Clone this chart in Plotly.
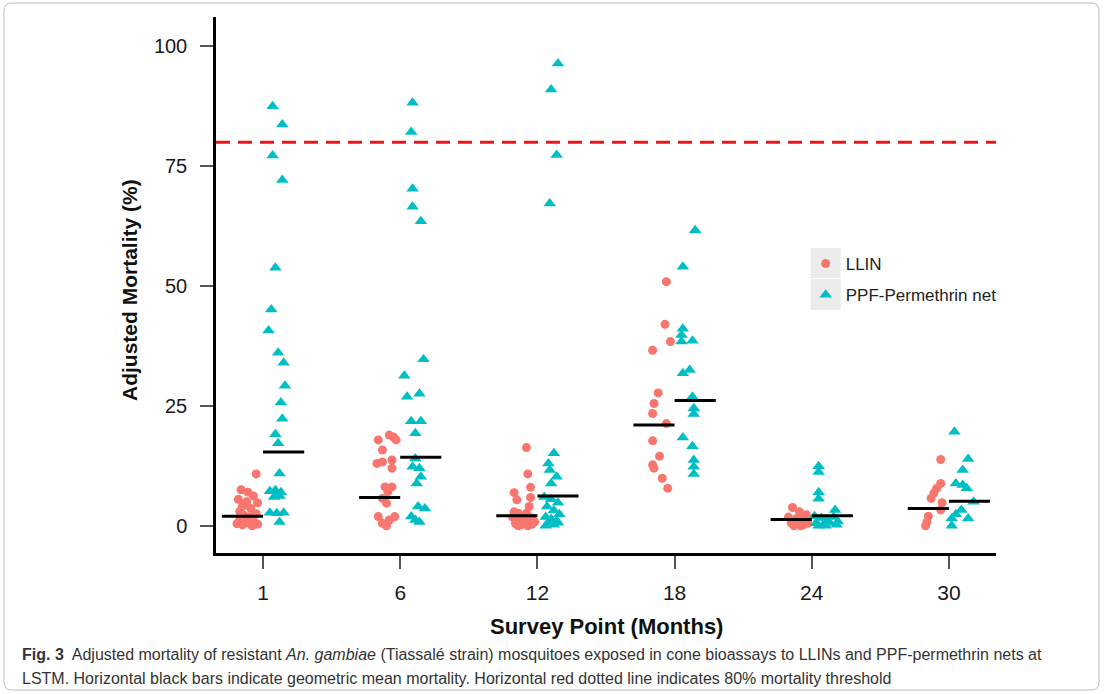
import plotly.graph_objects as go

# Survey points (months) and threshold
months = ["1", "6", "12", "18", "24", "30"]
threshold = 80

# Adjusted mortality (%) per net, one list per survey point
llin_values = [
    [10.8, 7.5, 7.0, 6.2, 5.5, 5.0, 4.8, 4.0, 3.6, 3.0, 2.5, 2.2, 1.8, 1.2, 1.0, 0.6, 0.2, 0.0, 0.4, 0.3],
    [17.9, 18.9, 17.9, 18.5, 15.8, 13.0, 13.3, 13.7, 12.0, 8.1, 8.1, 7.1, 5.7, 4.7, 1.9, 0.5, 1.2, 1.9, 0.0],
    [16.3, 10.8, 8.0, 6.9, 5.4, 5.9, 4.0, 2.9, 2.6, 2.6, 1.8, 1.5, 1.2, 1.6, 0.8, 0.5, 0.2, 0.0, 0.3, 0.0],
    [50.9, 42.0, 38.4, 36.6, 27.7, 25.5, 23.4, 21.3, 17.7, 14.5, 12.7, 12.0, 9.9, 7.8],
    [3.8, 2.9, 2.3, 1.8, 1.5, 1.2, 1.4, 0.6, 0.4, 0.2, 0.0, 0.0, 0.5],
    [13.8, 8.8, 7.8, 6.8, 5.7, 4.8, 3.3, 2.0, 0.8, 0.0],
]
ppf_values = [
    [87.5, 83.7, 77.2, 72.1, 53.8, 45.1, 40.7, 36.1, 34.0, 29.2, 25.7, 22.3, 19.1, 17.2, 10.9,
     7.2, 7.4, 7.0, 6.0, 6.2, 2.7, 2.6, 2.7, 0.8],
    [88.2, 82.1, 70.3, 66.5, 63.5, 34.7, 31.3, 26.9, 27.5, 21.8, 21.8, 19.3, 14.0, 12.3, 12.0,
     10.2, 8.8, 4.0, 3.6, 1.9, 1.2, 0.8],
    [96.4, 91.0, 77.3, 67.2, 15.1, 13.0, 11.6, 10.2, 8.8, 6.0, 5.5, 4.8, 4.0, 3.2, 2.4, 1.8,
     1.4, 1.0, 0.5, 0.2, 0.0, 0.6],
    [61.6, 54.0, 41.1, 39.8, 38.4, 38.6, 31.8, 32.5, 26.9, 24.5, 23.3, 18.4, 16.6, 13.7, 12.3, 10.8],
    [12.4, 11.2, 7.0, 5.6, 3.3, 2.0, 1.6, 1.2, 1.8, 0.9, 0.5, 0.3, 0.6, 0.2, 0.0, 0.0],
    [19.6, 13.9, 11.6, 8.8, 8.5, 7.8, 5.0, 3.3, 2.4, 1.5, 1.5, 0.0],
]

# Horizontal jitter of each net (in category units, relative to the survey point)
llin_jitter = [
    [-0.05, -0.16, -0.11, -0.07, -0.18, -0.12, -0.04, -0.15, -0.09, -0.17, -0.05, -0.14, -0.10,
     -0.17, -0.07, -0.12, -0.15, -0.08, -0.19, -0.04],
    [-0.16, -0.08, -0.03, -0.05, -0.13, -0.17, -0.13, -0.06, -0.06, -0.11, -0.06, -0.09, -0.13,
     -0.10, -0.16, -0.13, -0.08, -0.04, -0.10],
    [-0.08, -0.07, -0.05, -0.17, -0.15, -0.05, -0.06, -0.17, -0.14, -0.08, -0.18, -0.13, -0.09,
     -0.04, -0.02, -0.16, -0.12, -0.07, -0.04, -0.14],
    [-0.06, -0.07, -0.03, -0.16, -0.12, -0.15, -0.16, -0.06, -0.16, -0.11, -0.16, -0.15, -0.09, -0.05],
    [-0.14, -0.09, -0.04, -0.17, -0.11, -0.07, -0.03, -0.15, -0.10, -0.06, -0.13, -0.08, -0.03],
    [-0.06, -0.06, -0.09, -0.11, -0.13, -0.05, -0.06, -0.15, -0.16, -0.17],
]
ppf_jitter = [
    [0.07, 0.14, 0.07, 0.14, 0.09, 0.06, 0.04, 0.11, 0.15, 0.16, 0.13, 0.14, 0.09, 0.11, 0.12,
     0.05, 0.09, 0.13, 0.08, 0.12, 0.05, 0.10, 0.15, 0.12],
    [0.09, 0.08, 0.09, 0.09, 0.15, 0.17, 0.03, 0.05, 0.14, 0.08, 0.15, 0.11, 0.11, 0.09, 0.14,
     0.15, 0.12, 0.13, 0.18, 0.08, 0.11, 0.14],
    [0.15, 0.10, 0.14, 0.09, 0.12, 0.08, 0.09, 0.14, 0.10, 0.05, 0.10, 0.15, 0.07, 0.12, 0.16,
     0.06, 0.10, 0.14, 0.08, 0.12, 0.06, 0.15],
    [0.15, 0.06, 0.06, 0.05, 0.05, 0.13, 0.06, 0.11, 0.13, 0.14, 0.14, 0.06, 0.13, 0.14, 0.14, 0.14],
    [0.05, 0.05, 0.05, 0.05, 0.17, 0.02, 0.07, 0.11, 0.16, 0.19, 0.03, 0.09, 0.13, 0.18, 0.05, 0.10],
    [0.04, 0.14, 0.10, 0.05, 0.10, 0.13, 0.18, 0.09, 0.05, 0.14, 0.02, 0.02],
]

# Geometric mean mortality per survey point
llin_gmean = [2.0, 5.9, 2.1, 21.0, 1.3, 3.6]
ppf_gmean = [15.4, 14.3, 6.2, 26.1, 2.1, 5.1]

LLIN_COLOR = "#F8766D"
PPF_COLOR = "#00BFC4"
BAR_HALF = 0.3

# plot-area geometry in pixels (used for paper-coordinate placement)
W, H = 1104, 694
PL, PR, PT, PB = 216, 996, 17, 553


def px(xp):
    return (xp - PL) / (PR - PL)


def py(yp):
    return (PB - yp) / (PB - PT)


def scatter_xy(values, jitter):
    xs, ys = [], []
    for k, (vals, jit) in enumerate(zip(values, jitter)):
        for v, j in zip(vals, jit):
            xs.append(k + j)
            ys.append(v)
    return xs, ys


def bar_xy(means, side):
    xs, ys = [], []
    for k, m in enumerate(means):
        x0 = k - BAR_HALF if side < 0 else k
        xs += [x0, x0 + BAR_HALF, None]
        ys += [m, m, None]
    return xs, ys


fig = go.Figure()

lx, ly = scatter_xy(llin_values, llin_jitter)
tx, ty = scatter_xy(ppf_values, ppf_jitter)

fig.add_trace(go.Scatter(
    x=lx, y=ly, mode="markers", name="LLIN", legendgroup="a",
    marker=dict(symbol="circle", size=9, color=LLIN_COLOR, line=dict(width=0)),
))
fig.add_trace(go.Scatter(
    x=tx, y=ty, mode="markers", name="PPF-Permethrin net", legendgroup="b",
    marker=dict(symbol="triangle-up", size=11, color=PPF_COLOR, line=dict(width=0)),
))

bx, by = bar_xy(llin_gmean, -1)
fig.add_trace(go.Scatter(x=bx, y=by, mode="lines", showlegend=False,
                         line=dict(color="black", width=3)))
bx, by = bar_xy(ppf_gmean, 1)
fig.add_trace(go.Scatter(x=bx, y=by, mode="lines", showlegend=False,
                         line=dict(color="black", width=3)))

shapes = [
    # 80% threshold line
    dict(type="line", xref="paper", yref="y", x0=0, x1=1, y0=threshold, y1=threshold,
         line=dict(color="#E8161B", width=3, dash="14px,8px"), layer="above"),
    # legend key backgrounds
    dict(type="rect", xref="paper", yref="paper", x0=px(810.7), x1=px(840.7),
         y0=py(278), y1=py(248), fillcolor="#EBEBEB", line=dict(width=0), layer="above"),
    dict(type="rect", xref="paper", yref="paper", x0=px(810.7), x1=px(840.7),
         y0=py(310), y1=py(279), fillcolor="#EBEBEB", line=dict(width=0), layer="above"),
]

# rounded frame around the figure and caption
fx0, fx1, fy0, fy1 = px(4), px(1099), py(690), py(3)
rx, ry = 8 / (PR - PL), 8 / (PB - PT)
frame = (f"M {fx0 + rx} {fy1} L {fx1 - rx} {fy1} Q {fx1} {fy1} {fx1} {fy1 - ry} "
         f"L {fx1} {fy0 + ry} Q {fx1} {fy0} {fx1 - rx} {fy0} "
         f"L {fx0 + rx} {fy0} Q {fx0} {fy0} {fx0} {fy0 + ry} "
         f"L {fx0} {fy1 - ry} Q {fx0} {fy1} {fx0 + rx} {fy1} Z")
shapes.append(dict(type="path", xref="paper", yref="paper", path=frame,
                   line=dict(color="#BDBDBD", width=1), layer="below"))

annotations = [
    dict(text="<b>Survey Point (Months)</b>", xref="paper", yref="paper",
         x=0.5, y=py(626), xanchor="center", yanchor="middle", showarrow=False,
         font=dict(family="Liberation Sans", size=22, color="#111")),
    dict(text="<b>Adjusted Mortality (%)</b>", xref="paper", yref="paper",
         x=px(130), y=py(290), xanchor="center", yanchor="middle", showarrow=False,
         textangle=-90, font=dict(family="Liberation Sans", size=21, color="#111")),
    dict(text="<b>Fig. 3</b>  Adjusted mortality of resistant <i>An. gambiae</i> (Tiassalé strain) "
              "mosquitoes exposed in cone bioassays to LLINs and PPF-permethrin nets at",
         xref="paper", yref="paper", x=px(20), y=py(654), xanchor="left", yanchor="middle",
         showarrow=False, align="left",
         font=dict(family="Liberation Sans Narrow, Liberation Sans", size=16, color="#333")),
    dict(text="LSTM. Horizontal black bars indicate geometric mean mortality. Horizontal red "
              "dotted line indicates 80% mortality threshold",
         xref="paper", yref="paper", x=px(20), y=py(678), xanchor="left", yanchor="middle",
         showarrow=False, align="left",
         font=dict(family="Liberation Sans Narrow, Liberation Sans", size=16, color="#333")),
]

fig.update_layout(
    width=W, height=H, autosize=False,
    margin=dict(l=PL, r=W - PR, t=PT, b=H - PB, pad=0),
    paper_bgcolor="white", plot_bgcolor="rgba(0,0,0,0)",
    showlegend=True,
    legend=dict(x=px(805.7), y=py(246), xanchor="left", yanchor="top",
                bgcolor="rgba(0,0,0,0)", borderwidth=0, tracegroupgap=6,
                font=dict(family="Liberation Sans", size=17, color="#222")),
    shapes=shapes,
    annotations=annotations,
    xaxis=dict(range=[-0.343, 5.343], tickmode="array", tickvals=list(range(len(months))),
               ticktext=months, showgrid=False, zeroline=False,
               showline=True, linecolor="black", linewidth=2.5,
               ticks="outside", ticklen=13, tickwidth=1.5, tickcolor="#555",
               ticklabelstandoff=6,
               tickfont=dict(family="Liberation Sans Narrow, Liberation Sans", size=21, color="#1a1a1a")),
    yaxis=dict(range=[-5.69, 106.1], tickvals=[0, 25, 50, 75, 100], showgrid=False,
               zeroline=False, showline=True, linecolor="black", linewidth=2.5,
               ticks="outside", ticklen=13, tickwidth=1.5, tickcolor="#555",
               ticklabelstandoff=9,
               tickfont=dict(family="Liberation Sans", size=20, color="#1a1a1a")),
)

fig.write_html("out.html")
